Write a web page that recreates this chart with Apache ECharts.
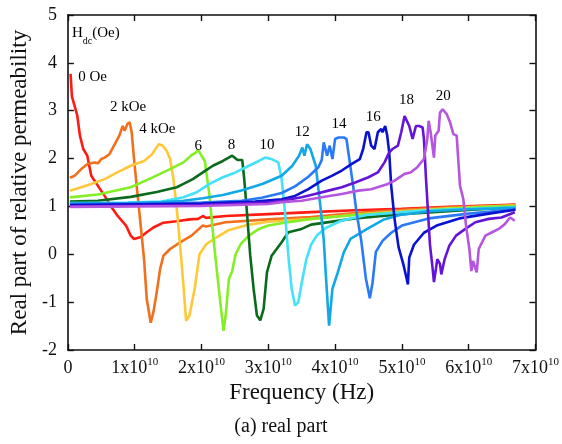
<!DOCTYPE html>
<html>
<head>
<meta charset="utf-8">
<script src="https://cdn.jsdelivr.net/npm/echarts@6/dist/echarts.min.js"></script>
<style>
  html, body { margin: 0; padding: 0; background: #fff; }
  #main { width: 562px; height: 444px; }
</style>
</head>
<body>
<div id="main"></div>
<script>
// frequency in GHz (axis shows it as n x 10^10 Hz), value = real part of permeability
var oe0 = [[0.4,3.77],[0.6,3.3],[1.0,3.1],[1.4,2.9],[1.8,2.48],[2.3,2.2],[2.9,2.06],[3.5,1.64],[4.5,1.43],[5.5,1.22],[6.4,1.01],[7.4,0.81],[8.7,0.6],[9.4,0.39],[9.9,0.32],[10.9,0.36],[11.8,0.46],[12.8,0.56],[14.3,0.66],[16.3,0.69],[18.2,0.73],[19.5,0.74],[20.2,0.8],[20.7,0.76],[23.6,0.8],[30,0.84],[36.4,0.88],[43,0.92],[50,0.95],[57,0.99],[63,1.02],[67,1.04]];
var oe2k = [[0.3,1.6],[1.0,1.64],[2.0,1.78],[3.0,1.89],[4.0,1.92],[4.5,1.9],[5.0,1.99],[5.5,2.02],[6.2,2.09],[6.9,2.27],[7.7,2.48],[8.2,2.68],[8.5,2.58],[8.9,2.72],[9.25,2.76],[9.55,2.55],[9.9,1.99],[10.4,1.29],[10.9,0.6],[11.4,-0.1],[11.8,-0.93],[12.4,-1.43],[12.8,-1.21],[13.3,-0.79],[13.8,-0.31],[14.3,-0.03],[15.3,0.11],[16.8,0.25],[18.5,0.39],[20.2,0.6],[20.7,0.58],[23.6,0.67],[30,0.73],[36.4,0.78],[43,0.86],[50,0.93],[57,0.98],[63,1.01],[67,1.03]];
var oe4k = [[0.3,1.33],[1.5,1.38],[3.5,1.47],[5.5,1.57],[7.4,1.71],[9.4,1.85],[11.4,1.95],[12.6,2.09],[13.6,2.3],[14.1,2.28],[14.8,2.16],[15.3,1.99],[15.8,1.57],[16.3,0.95],[16.8,0.18],[17.3,-0.66],[17.7,-1.39],[18.2,-1.28],[19.0,-0.7],[19.7,0.0],[20.7,0.21],[22.2,0.35],[24,0.5],[27.1,0.62],[30,0.68],[36.4,0.74],[43,0.83],[50,0.9],[57,0.96],[63,1.0],[67,1.02]];
var oe6k = [[0.3,1.19],[4.5,1.25],[9.4,1.4],[12.3,1.58],[15.3,1.78],[17.3,1.92],[18.5,2.07],[19.2,2.13],[19.5,2.18],[20.0,2.06],[20.5,1.95],[21.2,1.22],[21.9,0.18],[22.7,-0.86],[23.3,-1.6],[23.6,-1.3],[24.1,-0.52],[24.6,-0.35],[25.1,0.0],[25.9,0.22],[27.1,0.39],[28.6,0.53],[30.0,0.6],[32.0,0.65],[36.4,0.74],[43,0.82],[50,0.88],[57,0.95],[63,0.99],[67,1.01]];
var oe8k = [[0.3,1.1],[4.5,1.12],[9.4,1.2],[13.3,1.3],[16.3,1.4],[17.3,1.47],[18.7,1.57],[20.2,1.71],[21.7,1.85],[23.2,1.95],[24.6,2.06],[25.4,1.97],[26.1,1.97],[26.4,1.57],[26.8,0.88],[27.3,-0.03],[27.8,-0.72],[28.3,-1.28],[28.8,-1.38],[29.3,-1.14],[29.8,-0.38],[30.5,-0.03],[32.0,0.25],[33.0,0.46],[35.0,0.53],[36.4,0.62],[43,0.75],[50,0.84],[57,0.9],[63,0.95],[67,0.98]];
var oe10k = [[0.3,1.07],[9,1.08],[14,1.1],[17.3,1.19],[19.2,1.29],[21.2,1.47],[23.2,1.61],[25.1,1.71],[27.1,1.85],[28.6,1.95],[29.5,2.02],[30.5,1.99],[31.5,1.92],[32.0,1.57],[32.5,0.88],[33.0,-0.03],[33.5,-0.72],[34.0,-1.07],[34.5,-1.0],[35.0,-0.6],[35.7,-0.1],[36.4,0.2],[37.3,0.4],[38.6,0.55],[40.9,0.7],[44.7,0.82],[50,0.88],[54.1,0.92],[60,0.95],[67,0.98]];
var oe12k = [[0.3,1.06],[9,1.07],[14,1.09],[17.3,1.12],[20.2,1.17],[23.2,1.24],[26.1,1.34],[29.1,1.47],[32.0,1.64],[33.6,1.85],[34.6,2.06],[35.1,2.23],[35.4,2.06],[35.8,2.3],[36.3,2.2],[37.1,1.85],[37.8,1.0],[38.3,0.3],[38.6,-0.4],[39.1,-1.49],[39.6,-0.72],[40.4,-0.38],[41.3,0.04],[42.3,0.32],[44.8,0.53],[47.2,0.72],[49.7,0.82],[54.1,0.9],[60,0.94],[67,0.97]];
var oe14k = [[0.3,1.05],[14,1.06],[20,1.08],[26,1.12],[29,1.18],[32,1.28],[34,1.42],[36,1.62],[37.5,1.82],[38.0,1.97],[38.3,2.34],[38.8,2.06],[39.2,2.27],[39.6,1.99],[40.0,2.41],[40.5,2.44],[41.3,2.44],[41.7,2.41],[42.2,1.92],[42.7,1.43],[43.2,0.88],[43.9,0.3],[44.6,-0.5],[45.2,-0.92],[45.6,-0.6],[46.1,0.05],[47.1,0.28],[48.4,0.45],[50,0.6],[54,0.75],[60,0.85],[67,0.94]];
var oe16k = [[0.3,1.03],[20,1.06],[28,1.1],[32,1.15],[34,1.22],[36,1.36],[38,1.54],[39.5,1.64],[41,1.75],[42.5,1.89],[43.7,1.99],[44.2,2.2],[44.7,2.55],[45.0,2.55],[45.4,2.27],[45.9,2.2],[46.4,2.55],[46.9,2.62],[47.1,2.55],[47.5,2.68],[47.8,2.48],[48.1,2.13],[48.4,1.43],[48.9,0.74],[49.5,0.15],[50.2,-0.2],[50.7,-0.5],[50.9,-0.63],[51.1,-0.07],[51.8,0.2],[53.3,0.45],[55.2,0.6],[58.6,0.75],[63.5,0.86],[67,0.93]];
var oe18k = [[0.3,1.0],[20,1.03],[30,1.08],[32,1.12],[35,1.19],[37,1.26],[39,1.33],[41,1.4],[43,1.5],[45,1.61],[46.4,1.71],[47.4,1.92],[48.1,2.13],[48.6,2.2],[49.4,2.27],[49.9,2.55],[50.4,2.89],[50.6,2.93],[51.1,2.68],[51.6,2.41],[52.1,2.68],[52.6,2.68],[53.1,2.65],[53.3,2.41],[53.6,1.6],[53.9,0.9],[54.2,0.2],[54.6,-0.3],[54.8,-0.58],[55.1,-0.3],[55.3,-0.1],[55.7,-0.2],[55.9,-0.42],[56.4,-0.1],[57.1,0.18],[58.1,0.39],[59.5,0.53],[61.0,0.67],[63.0,0.74],[64.9,0.77],[66.9,0.88]];
var oe20k = [[0.3,0.99],[20,1.01],[30,1.05],[32,1.09],[35,1.12],[38,1.19],[41,1.26],[43.5,1.33],[45.4,1.36],[47.9,1.47],[48.9,1.54],[50.4,1.68],[51.3,1.71],[52.3,1.82],[53.3,1.99],[53.8,2.41],[54.0,2.79],[54.3,2.55],[54.8,2.02],[55.0,2.48],[55.5,2.58],[55.7,2.96],[56.1,3.03],[56.7,2.93],[57.2,2.76],[57.7,2.51],[58.2,2.48],[58.7,1.43],[59.2,1.15],[59.6,0.6],[60.1,0.11],[60.4,-0.35],[60.65,-0.14],[61.2,-0.38],[61.5,0.11],[62.5,0.39],[63.5,0.46],[64.5,0.53],[65.4,0.63],[66.2,0.77],[66.9,0.7]];

var curves = [oe0, oe2k, oe4k, oe6k, oe8k, oe10k, oe12k, oe14k, oe16k, oe18k, oe20k];
var curveColors = ['#ff1a12', '#f0701e', '#ffc83a', '#84ee26', '#0b6a1c', '#44e2f8', '#12a8e6', '#2a7af6', '#0a12d2', '#6414d8', '#b656e0'];

// curve labels: [text, GHz, value]
var curveLabels = [['0 Oe', 3.7, 3.7], ['2 kOe', 9.0, 3.07], ['4 kOe', 13.4, 2.62], ['6', 19.5, 2.26], ['8', 24.5, 2.28], ['10', 29.8, 2.28], ['12', 35.1, 2.55], ['14', 40.6, 2.72], ['16', 45.7, 2.87], ['18', 50.7, 3.22], ['20', 56.2, 3.3]];
var xTicks = [0, 10, 20, 30, 40, 50, 60, 70];
var yTicks = [-2, -1, 0, 1, 2, 3, 4, 5];

var serif = 'Liberation Serif';
var chart = echarts.init(document.getElementById('main'));

var series = [];
for (var i = 0; i < curves.length; i++) {
  series.push({
    type: 'line',
    data: curves[i],
    showSymbol: false,
    symbol: 'none',
    lineStyle: { color: curveColors[i], width: 2.6 },
    z: 2 + i
  });
}

function boxAxis(extra) {
  var base = {
    type: 'value',
    axisLine: { show: true, onZero: false, lineStyle: { color: '#111', width: 1.6 } },
    axisTick: { show: true, inside: true, length: 6, lineStyle: { color: '#111', width: 1.4 } },
    splitLine: { show: false }
  };
  for (var k in extra) base[k] = extra[k];
  return base;
}

var graphics = [
  {
    type: 'text', left: 72, top: 26,
    style: {
      text: '{h|H}{d|dc}{h|(Oe)}',
      rich: {
        h: { fontFamily: serif, fontSize: 15, fill: '#000', lineHeight: 20, verticalAlign: 'top' },
        d: { fontFamily: serif, fontSize: 10, fill: '#000', lineHeight: 20, verticalAlign: 'bottom' }
      }
    }
  },
  {
    type: 'text', left: 'center', top: 417,
    style: { text: '(a) real part', fontFamily: serif, fontSize: 20, fill: '#111' }
  }
];

chart.setOption({
  animation: false,
  backgroundColor: '#fff',
  grid: { left: 63, right: 24, top: 15, bottom: 94 },
  xAxis: [
    boxAxis({
      position: 'bottom', min: xTicks[0], max: xTicks[xTicks.length - 1], interval: 10,
      name: 'Frequency (Hz)', nameLocation: 'middle', nameGap: 22,
      nameTextStyle: { fontFamily: serif, fontSize: 23, color: '#111' },
      axisLabel: {
        margin: 7,
        formatter: function (v) { return v === 0 ? '{b|0}' : '{b|' + (v / 10) + 'x10}{s|10}'; },
        rich: {
          b: { fontFamily: serif, fontSize: 18, color: '#111', lineHeight: 20, verticalAlign: 'bottom' },
          s: { fontFamily: serif, fontSize: 11, color: '#111', lineHeight: 20, verticalAlign: 'top' }
        }
      }
    }),
    boxAxis({ position: 'top', min: 0, max: 70, interval: 10, axisLabel: { show: false } })
  ],
  yAxis: [
    boxAxis({
      position: 'left', min: yTicks[0], max: yTicks[yTicks.length - 1], interval: 1,
      name: 'Real part of relative permeability', nameLocation: 'middle', nameGap: 34,
      nameTextStyle: { fontFamily: serif, fontSize: 23, color: '#111' },
      axisLabel: { margin: 11, fontFamily: serif, fontSize: 18, color: '#111' }
    }),
    boxAxis({ position: 'right', min: -2, max: 5, interval: 1, axisLabel: { show: false } })
  ],
  graphic: graphics,
  series: series
});

// place the field labels next to their curves, through the axis scales
curveLabels.forEach(function (l) {
  var p = chart.convertToPixel({ xAxisIndex: 0, yAxisIndex: 0 }, [l[1], l[2]]);
  graphics.push({
    type: 'text', x: p[0], y: p[1], z: 50,
    style: { text: l[0], fontFamily: serif, fontSize: 15, fill: '#000', align: 'center', verticalAlign: 'middle' }
  });
});
chart.setOption({ graphic: graphics });
</script>
</body>
</html>
